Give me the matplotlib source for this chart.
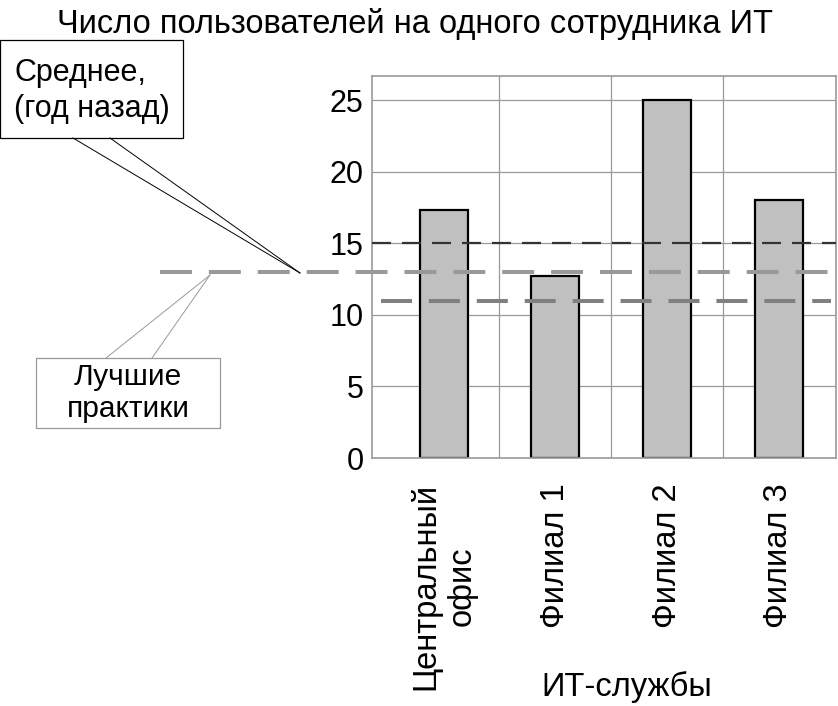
import matplotlib
matplotlib.use("Agg")
import matplotlib.pyplot as plt
from matplotlib.lines import Line2D
from matplotlib.transforms import blended_transform_factory

plt.rcParams['font.family'] = ['Liberation Sans', 'DejaVu Sans']
plt.rcParams['lines.scale_dashes'] = False

# ---- data ----
categories = ["Центральный\nофис", "Филиал 1", "Филиал 2", "Филиал 3"]
values = [17.3, 12.7, 25.0, 18.0]
ref_black = 15        # dark dashed line
ref_prev = 13         # "Среднее (год назад)" grey dashed (extends left)
ref_best = 11         # grey dashed line
y_ticks = [0, 5, 10, 15, 20, 25]
title = "Число пользователей на одного сотрудника ИТ"
xlabel = "ИТ-службы"
callout_prev = "Среднее,\n(год назад)"
callout_best = "Лучшие\nпрактики"

W, H = 838, 706
fig = plt.figure(figsize=(W / 100, H / 100), dpi=100)


def px(x, y):
    return (x / W, 1 - y / H)


ax = fig.add_axes([372 / W, 1 - 458 / H, (836 - 372) / W, (458 - 76) / H])
x = list(range(len(categories)))
ax.bar(x, values, width=0.43, color="#C0C0C0", edgecolor="black",
       linewidth=1.6, zorder=2)
ax.set_xlim(-0.64, 3.51)
ax.set_ylim(0, 26.7)
ax.set_yticks(y_ticks)
ax.set_xticks(x)
ax.set_xticklabels(categories, rotation=90, fontsize=23.5, va="top",
                   ha="center", multialignment="center", linespacing=1.2)
ax.tick_params(axis="both", length=0)
ax.tick_params(axis="x", pad=18)
ax.tick_params(axis="y", pad=6, labelsize=22)

# grid
for yv in y_ticks[1:]:
    ax.axhline(yv, color="#999999", lw=0.9, zorder=1)
for xv in [0.5, 1.5, 2.5]:
    ax.axvline(xv, color="#999999", lw=0.9, zorder=1)
for s in ax.spines.values():
    s.set_color("#999999")
    s.set_linewidth(1.2)

# reference lines
ax.axhline(ref_black, color="#333333", lw=1.6, dashes=(13.7, 7.9), zorder=3)
ax.axhline(ref_best, color="#808080", lw=2.9, dashes=(22.3, 12.2), zorder=3,
           xmin=0.02, xmax=0.99)
tr = blended_transform_factory(fig.transFigure, ax.transData)
fig.add_artist(Line2D([160 / W, 1.0], [ref_prev, ref_prev], transform=tr,
                      color="#999999", lw=2.9, dashes=(23, 12.2), zorder=4))

fig.text(627 / W, 1 - 687 / H, xlabel, fontsize=23.5, ha="center",
         va="center")

fig.text(415 / W, 1 - 24 / H, title, fontsize=23.5, ha="center",
         va="center")

# callout 1 (black)
fig.add_artist(plt.Rectangle(px(0, 138), 183 / W, (138 - 40) / H,
                             transform=fig.transFigure, fill=False,
                             edgecolor="black", lw=0.9))
fig.text(14 / W, 1 - 91 / H, callout_prev, fontsize=22, ha="left",
         va="center", linespacing=1.22)
for sx in (73, 110):
    p0, p1 = px(sx, 138), px(300, 273)
    fig.add_artist(Line2D([p0[0], p1[0]], [p0[1], p1[1]],
                          transform=fig.transFigure, color="black", lw=0.7))

# callout 2 (grey)
fig.add_artist(plt.Rectangle(px(36, 428), (220 - 36) / W, (428 - 358) / H,
                             transform=fig.transFigure, fill=False,
                             edgecolor="#999999", lw=0.9))
fig.text(128 / W, 1 - 393 / H, callout_best, fontsize=21.5, ha="center",
         va="center", linespacing=1.15)
for sx in (106, 152):
    p0, p1 = px(sx, 358), px(210, 275)
    fig.add_artist(Line2D([p0[0], p1[0]], [p0[1], p1[1]],
                          transform=fig.transFigure, color="#999999", lw=0.7))

fig.savefig("out.png", dpi=100)
